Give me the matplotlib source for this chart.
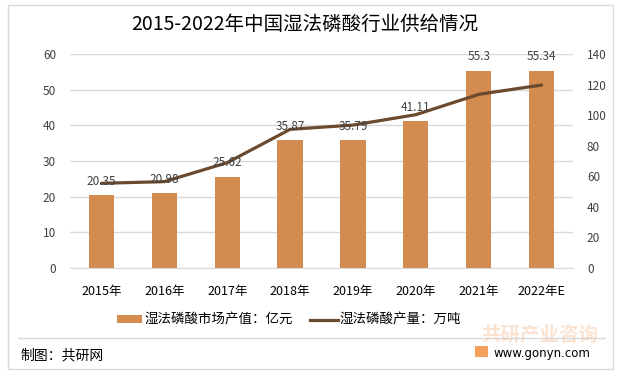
import matplotlib
matplotlib.use("Agg")
import matplotlib.pyplot as plt
from matplotlib.patches import Rectangle
from matplotlib.lines import Line2D

plt.rcParams['font.family'] = ['Noto Sans CJK SC', 'DejaVu Sans']

years = ["2015年", "2016年", "2017年", "2018年", "2019年", "2020年", "2021年", "2022年E"]
market_value = [20.35, 20.98, 25.62, 35.87, 35.79, 41.11, 55.3, 55.34]
value_labels = ["20.35", "20.98", "25.62", "35.87", "35.79", "41.11", "55.3", "55.34"]
output = [55.4, 56.5, 68.9, 90.7, 93.5, 100.3, 113.6, 119.7]

bar_color = "#D38B4F"
line_color = "#6B4A2E"
grid_color = "#D9D9D9"
text_color = "#404040"

W, H = 623, 378
def fx(px):
    return px / W
def fy(py):
    return 1 - py / H

fig = plt.figure(figsize=(W / 100, H / 100), dpi=100)
fig.patch.set_facecolor("white")

# outer border
fig.add_artist(Rectangle((fx(8), fy(369)), (613 - 8) / W, (369 - 5) / H, transform=fig.transFigure,
                         fill=False, edgecolor="#D9D9D9", linewidth=1.0))
# separator
fig.add_artist(Line2D([fx(18), fx(605)], [fy(337.5), fy(337.5)], transform=fig.transFigure,
                      color="#D9D9D9", linewidth=1.0))

ax = fig.add_axes([fx(70), fy(268), 503 / W, 214 / H])
x = list(range(len(years)))
ax.bar(x, market_value, width=0.4, color=bar_color, zorder=2)
ax.set_ylim(0, 60)
ax.set_yticks(range(0, 61, 10))
ax.set_xlim(-0.5, len(years) - 0.5)
ax.set_xticks(x)
ax.set_xticklabels(years, fontsize=9, color="black")
ax.grid(axis="y", color=grid_color, linewidth=1.0, zorder=0)
ax.set_axisbelow(True)
for s in ["top", "right", "left"]:
    ax.spines[s].set_visible(False)
ax.spines["bottom"].set_color(grid_color)
ax.tick_params(axis="both", length=0, labelsize=8.5, labelcolor=text_color)
ax.tick_params(axis="x", pad=12, labelcolor="black", labelsize=9)
ax.tick_params(axis="y", pad=10)

ax2 = ax.twinx()
ax2.plot(x, output, color=line_color, linewidth=2.3, zorder=3, solid_capstyle="round")
ax2.set_ylim(0, 140)
ax2.set_yticks(range(0, 141, 20))
for s in ["top", "right", "left", "bottom"]:
    ax2.spines[s].set_visible(False)
ax2.tick_params(axis="y", length=0, labelsize=8.5, labelcolor=text_color, pad=10)

for xi, v, lab in zip(x, market_value, value_labels):
    ax2.annotate(lab, (xi, v * 140 / 60), xytext=(0, 10), textcoords="offset points", ha="center",
                 va="center", fontsize=8.5, color=text_color, zorder=5)

# title
fig.text(fx(305), fy(24), "2015-2022年中国湿法磷酸行业供给情况", ha="center", va="center",
         fontsize=14, color="black")

# legend
fig.add_artist(Rectangle((fx(117), fy(323)), 25 / W, 8 / H, transform=fig.transFigure,
                         facecolor=bar_color, edgecolor="none"))
fig.text(fx(144), fy(320), "湿法磷酸市场产值：亿元", ha="left", va="center", fontsize=9.7, color="black")
fig.add_artist(Line2D([fx(310), fx(338)], [fy(320), fy(320)], transform=fig.transFigure,
                      color=line_color, linewidth=2.3))
fig.text(fx(339), fy(320), "湿法磷酸产量：万吨", ha="left", va="center", fontsize=9.7, color="black")

# footer
fig.text(fx(20), fy(355), "制图：共研网", ha="left", va="center", fontsize=10, color="black")
fig.add_artist(Rectangle((fx(475), fy(357)), 13 / W, 11 / H, transform=fig.transFigure,
                         facecolor="#F2A25C", edgecolor="none"))
fig.text(fx(493), fy(353), "www.gonyn.com", ha="left", va="center", fontsize=8.5, color="black",
         family=["DejaVu Sans"])
fig.text(fx(540), fy(335), "共研产业咨询", ha="center", va="center", fontsize=14,
         color="#F4B183", alpha=0.35, fontweight="bold")

fig.savefig("out.png", dpi=100, facecolor="white")
